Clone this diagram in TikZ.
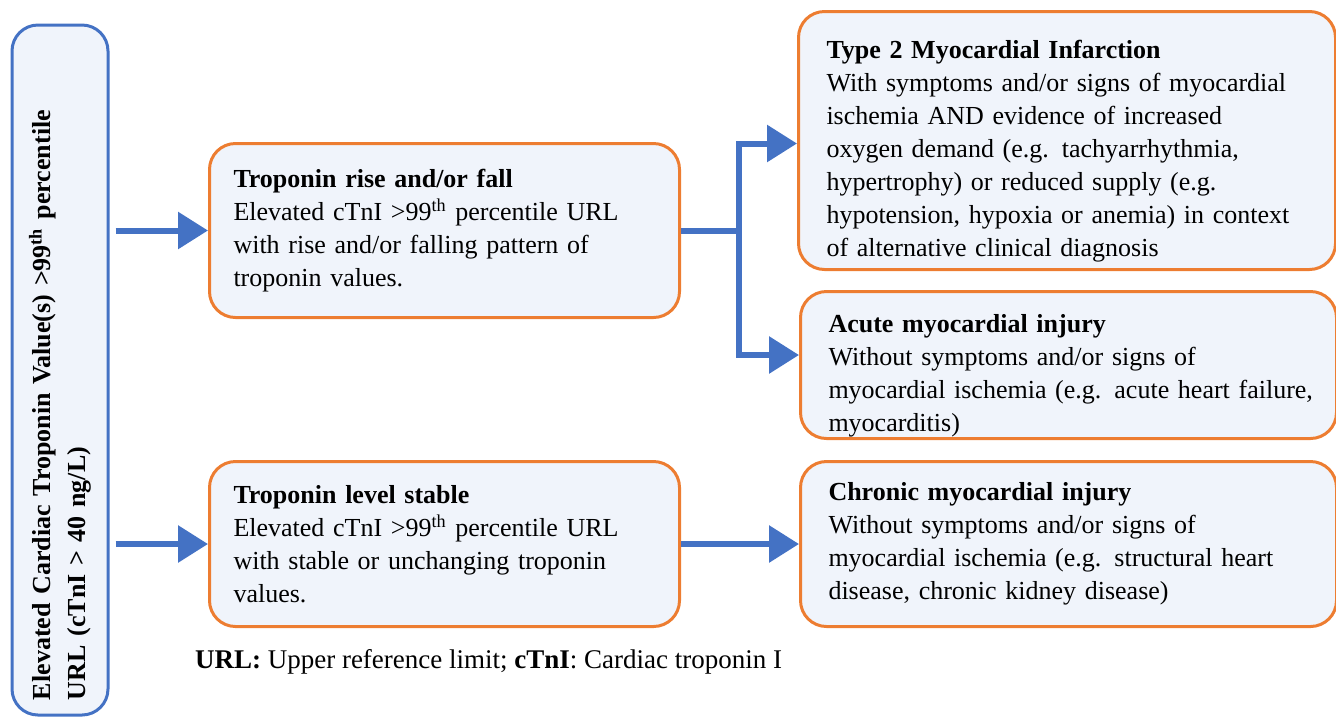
\documentclass[tikz,border=0pt]{standalone}
\usepackage{fontspec}
\setmainfont{Liberation Serif}
\usepackage{tikz}
\usetikzlibrary{arrows.meta}
\definecolor{boxorange}{HTML}{ED7D31}
\definecolor{boxblue}{HTML}{4472C4}
\definecolor{boxfill}{HTML}{F0F4FB}
\tikzset{
	main node/.style={draw=boxorange,line width=1.5pt,fill=boxfill,rounded corners=13pt,anchor=north west,inner xsep=12pt,align=left,font=\fontsize{13}{16.5}\selectfont},
	side node/.style={draw=boxblue,line width=1.5pt,fill=boxfill,rounded corners=13pt,rotate=90,inner xsep=7.5pt,align=left,font=\fontsize{13}{17.5}\selectfont\bfseries},
	link/.style={draw=boxblue,line width=3pt}
}

\begin{document}
\begin{tikzpicture}[x=0.5pt,y=-0.5pt,->,>={Triangle[length=15pt,width=18pt]}]
	\useasboundingbox (0,0) rectangle (1336,719);
	\node [side node,minimum width=345pt,minimum height=48pt,text width=330pt] (elev) at (60,370)
		{Elevated Cardiac Troponin Value(s) >99\textsuperscript{th} percentile\\URL (cTnI > 40 ng/L)};
	\node [main node,minimum width=235pt,minimum height=87pt,text width=211pt] (rise) at (208,142)
		{\textbf{Troponin rise and/or fall}\\Elevated cTnI >99\textsuperscript{th} percentile URL\\with rise and/or falling pattern of\\troponin values.};
	\node [main node,minimum width=235pt,minimum height=82.5pt,text width=211pt] (stable) at (208,460)
		{\textbf{Troponin level stable}\\Elevated cTnI >99\textsuperscript{th} percentile URL\\with stable or unchanging troponin\\values.};
	\node [main node,inner xsep=14pt,minimum width=268.5pt,minimum height=129pt,text width=240.5pt] (type2) at (797,10)
		{\rule{0pt}{20pt}\textbf{Type 2 Myocardial Infarction}\\With symptoms and/or signs of myocardial\\ischemia AND evidence of increased\\oxygen demand (e.g. tachyarrhythmia,\\hypertrophy) or reduced supply (e.g.\\hypotension, hypoxia or anemia) in context\\of alternative clinical diagnosis};
	\node [main node,inner xsep=14pt,inner ysep=0pt,minimum width=268pt,minimum height=73.5pt,text width=240pt] (acute) at (799,290)
		{\rule{0pt}{20pt}\textbf{Acute myocardial injury}\\Without symptoms and/or signs of\\\mbox{myocardial ischemia (e.g. acute heart failure,}\\myocarditis)};
	\node [main node,inner xsep=14pt,minimum width=268pt,minimum height=82.5pt,text width=240pt] (chronic) at (799,460)
		{\textbf{Chronic myocardial injury}\\Without symptoms and/or signs of\\myocardial ischemia (e.g. structural heart\\disease, chronic kidney disease)};
	\node [anchor=west,font=\fontsize{13.5}{16}\selectfont] (note) at (188,662)
		{\textbf{URL:} Upper reference limit; \textbf{cTnI}: Cardiac troponin I};

	\draw [link,shorten <=3pt] (elev.south |- rise.west) -- (rise.west);
	\draw [link,shorten <=3pt] (elev.south |- stable.west) -- (stable.west);
	\coordinate (split) at ([xshift=29pt]rise.east);
	\draw [link,-] (rise.east) -- (split);
	\draw [link] (split) |- ([yshift=-1.5pt]type2.west);
	\draw [link] (split) |- ([yshift=5pt]acute.west);
	\draw [link] (stable.east) -- (chronic.west);
\end{tikzpicture}
\end{document}
